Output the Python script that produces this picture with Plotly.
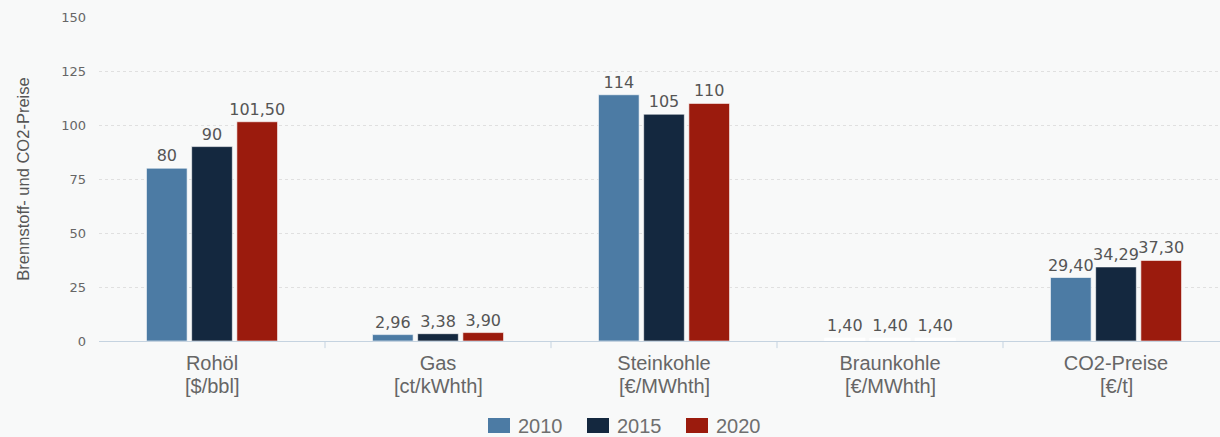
import plotly.graph_objects as go

# Fuel and CO2 price assumptions per year
categories = ["Rohöl", "Gas", "Steinkohle", "Braunkohle", "CO2-Preise"]
units = ["[$/bbl]", "[ct/kWhth]", "[€/MWhth]", "[€/MWhth]", "[€/t]"]
years = ["2010", "2015", "2020"]
values_2010 = [80, 2.96, 114, 1.40, 29.40]
values_2015 = [90, 3.38, 105, 1.40, 34.29]
values_2020 = [101.50, 3.90, 110, 1.40, 37.30]
y_ticks = [0, 25, 50, 75, 100, 125, 150]

colors = {"2010": "#4c7ba4", "2015": "#14283f", "2020": "#9b1b0d"}
series = {"2010": values_2010, "2015": values_2015, "2020": values_2020}

W, H = 1220, 437
ML, MT, MB = 99, 17, 96
PW, PH = W - ML, H - MT - MB


def fmt(v):
    # German number style: integers plain, others with two decimals and comma
    if float(v).is_integer():
        return str(int(v))
    return f"{v:.2f}".replace(".", ",")


def px_x(x):
    return (x - ML) / PW


def px_y(y):
    return (H - MB - y) / PH


fig = go.Figure()
for yr in years:
    vals = series[yr]
    bar_colors = [colors[yr] if i != 3 else "#ffffff" for i in range(len(vals))]
    fig.add_trace(go.Bar(
        x=list(range(len(categories))), y=vals, name=yr,
        marker=dict(color=bar_colors, line=dict(color="#ffffff", width=0.6)),
        text=[fmt(v) for v in vals], textposition="outside",
        textfont=dict(family="DejaVu Sans", size=16, color="#555555"),
        constraintext="none", cliponaxis=False, showlegend=False,
    ))

fig.update_layout(
    width=W, height=H,
    margin=dict(l=ML, r=0, t=MT, b=MB, autoexpand=False),
    paper_bgcolor="#f8f9f9", plot_bgcolor="#f8f9f9",
    barmode="group", bargap=0.40, bargroupgap=0.1,
    showlegend=False,
    font=dict(family="Liberation Sans", color="#666666"),
)

fig.update_xaxes(
    range=[-0.5, -0.5 + PW / 226.0], tickmode="array", tickvals=list(range(len(categories))),
    ticktext=categories, tickfont=dict(family="Liberation Sans", size=20, color="#666666"),
    showgrid=False, showline=True, linecolor="#c5d3e0", linewidth=1.2,
    ticks="", zeroline=False, fixedrange=True, ticklabelstandoff=4,
)
fig.update_yaxes(
    range=[0, 150], tickmode="array", tickvals=y_ticks,
    tickfont=dict(family="DejaVu Sans", size=13, color="#666666"),
    showgrid=True, gridcolor="#e0e0e0", griddash="3px,3px", gridwidth=1,
    zeroline=False, showline=False, ticks="", ticklabelstandoff=12,
    title=dict(text="Brennstoff- und CO2-Preise", standoff=27,
               font=dict(family="Liberation Sans", size=16.5, color="#555555")),
)

# unit line under each category name
for i, u in enumerate(units):
    fig.add_annotation(x=i, y=px_y(386), xref="x", yref="paper", text=u, showarrow=False,
                       xanchor="center", yanchor="middle",
                       font=dict(family="Liberation Sans", size=20, color="#666666"))

# category separators on the x axis
for b in [0.5, 1.5, 2.5, 3.5]:
    fig.add_shape(type="line", xref="x", yref="paper", x0=b, x1=b, y0=0, y1=-0.022,
                  line=dict(color="#c5d3e0", width=1))

# legend: colour swatch plus year label
legend_left = [488, 587, 686]
for x0, yr in zip(legend_left, years):
    fig.add_shape(type="rect", xref="paper", yref="paper",
                  x0=px_x(x0), x1=px_x(x0 + 22), y0=px_y(433), y1=px_y(418),
                  fillcolor=colors[yr], line=dict(width=0))
    fig.add_annotation(x=px_x(x0 + 28), y=px_y(426), xref="paper", yref="paper", text=yr,
                       showarrow=False, xanchor="left", yanchor="middle",
                       font=dict(family="Liberation Sans", size=20, color="#6f6f6f"))

fig.write_html("out.html")
